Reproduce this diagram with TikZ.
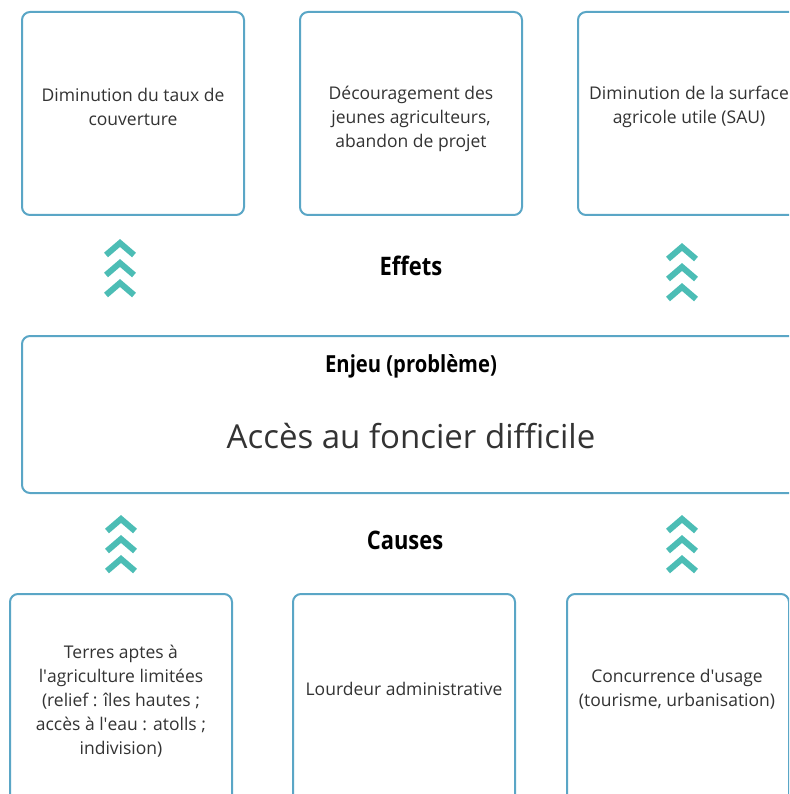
\documentclass[tikz,border=0pt]{standalone}
\usepackage{fontspec}
\setmainfont{Open Sans}
\newfontfamily\headfont[FakeStretch=0.86]{Open Sans Bold}
\definecolor{boxline}{HTML}{5AA6C6}
\definecolor{chev}{HTML}{4CBDB5}
\definecolor{txt}{HTML}{333333}
\newcommand{\apos}{\textquotesingle}
\begin{document}
\begin{tikzpicture}[x=1pt,y=-1pt,
  card/.style={draw=boxline, line width=2pt, rounded corners=8pt, fill=white},
  lbl/.style={text=txt, font=\fontsize{17.5}{24}\selectfont, align=center},
  head/.style={text=black, font=\headfont\fontsize{25.5}{28}\selectfont},
  chevline/.style={draw=chev, line width=6pt, miter limit=10}]
\useasboundingbox (0,0) rectangle (789,794);
\clip (0,0) rectangle (789,794);
% top boxes
\draw[card] (22,12) rectangle (244,215);
\draw[card] (300,12) rectangle (522,215);
\draw[card] (578,12) rectangle (800,215);
\node[lbl] (e1) at (133,107) {Diminution du taux de\\couverture};
\node[lbl] (e2) at (411,119) {Découragement des\\jeunes agriculteurs,\\abandon de projet};
\node[lbl] (e3) at (689,107) {Diminution de la surface\\agricole utile (SAU)};
% middle box
\draw[card] (22,336) rectangle (810,493);
\node[head, font=\headfont\fontsize{23.5}{28}\selectfont] (enjeu) at (411,366) {Enjeu (problème)};
\node[text=txt, font=\fontsize{33}{36}\selectfont] (acces) at (411,436) {Accès au foncier difficile};
\node[head] (effets) at (411,266) {Effets};
\node[head] (causes) at (405,540) {Causes};
% bottom boxes
\draw[card] (10,594) rectangle (232,810);
\draw[card] (293,594) rectangle (515,810);
\draw[card] (567,594) rectangle (789,810);
\node[lbl] (c1) at (121,701) {Terres aptes à\\l\apos agriculture limitées\\(relief : îles hautes ;\\accès à l\apos eau : atolls ;\\indivision)};
\node[lbl] (c2) at (404,689) {Lourdeur administrative};
\node[lbl] (c3) at (677,689) {Concurrence d\apos usage\\(tourisme, urbanisation)};
% chevrons
\foreach \cx/\cy in {120/243, 682/247, 121/519, 682/519}{
  \foreach \i in {0,1,2}{
    \draw[chevline] (\cx-14,\cy+20*\i+12) -- (\cx,\cy+20*\i) -- (\cx+14,\cy+20*\i+12);
  }
}
\end{tikzpicture}
\end{document}
